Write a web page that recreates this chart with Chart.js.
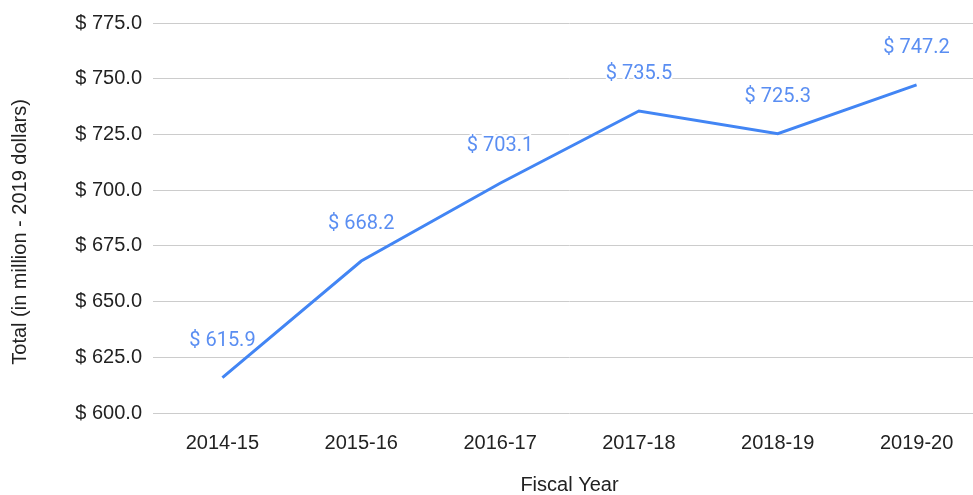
<!DOCTYPE html>
<html>
<head>
<meta charset="utf-8">
<script src="https://cdn.jsdelivr.net/npm/chart.js@4"></script>
<style>
  html, body { margin: 0; padding: 0; background: #fff; overflow: hidden; }
  #wrap { position: relative; width: 990px; height: 497px; }
</style>
</head>
<body>
<div id="wrap"><canvas id="totalChart"></canvas></div>
<script>
// ----- data -----
const fiscalYears = ["2014-15", "2015-16", "2016-17", "2017-18", "2018-19", "2019-20"];
const totals = [615.9, 668.2, 703.1, 735.5, 725.3, 747.2];
const yMin = 600;
const yMax = 775;
const yStep = 25;

const lineBlue = "#4285f4";
const labelBlue = "#5a8ef2";

// ----- value labels above each point -----
const pointLabels = {
    id: "pointLabels",
    afterDatasetsDraw(chart) {
        const ctx = chart.ctx;
        const meta = chart.getDatasetMeta(0);
        ctx.save();
        ctx.font = "20px Roboto";
        ctx.textAlign = "center";
        ctx.textBaseline = "middle";
        meta.data.forEach((pt, i) => {
            const txt = "$ " + totals[i].toFixed(1);
            ctx.lineWidth = 4;
            ctx.strokeStyle = "#fff";
            ctx.strokeText(txt, pt.x, pt.y - 37);
            ctx.fillStyle = labelBlue;
            ctx.fillText(txt, pt.x, pt.y - 37);
        });
        ctx.restore();
    }
};

const ctx = document.getElementById("totalChart").getContext("2d");
new Chart(ctx, {
    type: "line",
    data: {
        labels: fiscalYears,
        datasets: [{
            data: totals,
            borderColor: lineBlue,
            borderWidth: 3,
            pointRadius: 0,
            tension: 0,
            fill: false
        }]
    },
    options: {
        responsive: true,
        maintainAspectRatio: false,
        animation: false,
        layout: { padding: { top: 21, right: 4, bottom: 0, left: 0 } },
        plugins: { legend: { display: false }, tooltip: { enabled: false } },
        scales: {
            x: {
                offset: true,
                grid: { display: false },
                border: { display: false },
                ticks: { color: "#222", font: { family: "Arial, Liberation Sans", size: 20 }, padding: 10, maxRotation: 0 },
                title: { display: true, text: "Fiscal Year", color: "#222", font: { family: "Arial, Liberation Sans", size: 20 }, padding: { top: 0, bottom: 0 } },
                afterFit: s => { s.height = 84; }
            },
            y: {
                min: yMin,
                max: yMax,
                grid: { color: "#cccccc", drawTicks: false },
                border: { display: false },
                ticks: {
                    stepSize: yStep,
                    color: "#222",
                    padding: 11,
                    font: { family: "Arial, Liberation Sans", size: 20 },
                    callback: v => "$ " + Number(v).toFixed(1)
                },
                title: { display: true, text: "Total (in million - 2019 dollars)     ", color: "#222", font: { family: "Arial, Liberation Sans", size: 20 }, padding: { top: 8, bottom: 0 } },
                afterFit: s => { s.width = 153; }
            }
        }
    },
    plugins: [pointLabels]
});
</script>
</body>
</html>
